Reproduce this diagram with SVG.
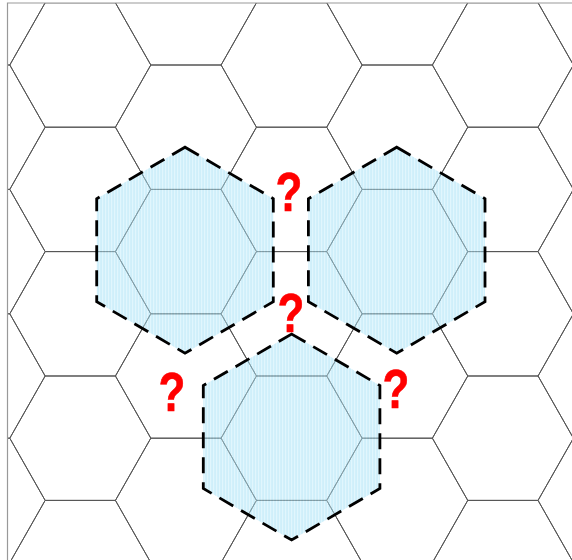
<svg xmlns="http://www.w3.org/2000/svg" xmlns:xlink="http://www.w3.org/1999/xlink" width="572" height="560" viewBox="0 0 572 560">
<style>
.g{fill:none;stroke:#555;stroke-width:1}
.reg{fill:url(#stripes);fill-opacity:0.5;stroke:none}
.dash{fill:none;stroke:#000;stroke-width:2.8;stroke-dasharray:16,9;stroke-linejoin:miter}
.q{font-family:"Liberation Sans",Arial,sans-serif;font-weight:bold;font-size:55px;fill:#ff0000;stroke:#ff0000;stroke-width:0.6;text-anchor:middle}
</style>
<defs>
<path id="h" d="M-70.5,0 L-35.15,-62.2 L35.15,-62.2 L70.5,0 L35.15,62.2 L-35.15,62.2 Z"/>
<pattern id="stripes" patternUnits="userSpaceOnUse" width="3" height="10">
<rect width="3" height="10" fill="#9fdff6"/>
<rect width="1.2" height="10" fill="#c4eefb"/>
</pattern>
<clipPath id="frame"><rect x="7.5" y="3" width="570" height="560"/></clipPath>
</defs>
<rect width="572" height="560" fill="#fff"/>
<g id="grid" class="g" clip-path="url(#frame)">
<use xlink:href="#h" x="-25.35" y="2.8"/><use xlink:href="#h" x="-25.35" y="127.2"/><use xlink:href="#h" x="-25.35" y="251.6"/><use xlink:href="#h" x="-25.35" y="376"/><use xlink:href="#h" x="-25.35" y="500.4"/>
<use xlink:href="#h" x="80.3" y="65"/><use xlink:href="#h" x="80.3" y="189.4"/><use xlink:href="#h" x="80.3" y="313.8"/><use xlink:href="#h" x="80.3" y="438.2"/><use xlink:href="#h" x="80.3" y="562.6"/>
<use xlink:href="#h" x="185.95" y="2.8"/><use xlink:href="#h" x="185.95" y="127.2"/><use xlink:href="#h" x="185.95" y="251.6"/><use xlink:href="#h" x="185.95" y="376"/><use xlink:href="#h" x="185.95" y="500.4"/>
<use xlink:href="#h" x="291.6" y="65"/><use xlink:href="#h" x="291.6" y="189.4"/><use xlink:href="#h" x="291.6" y="313.8"/><use xlink:href="#h" x="291.6" y="438.2"/><use xlink:href="#h" x="291.6" y="562.6"/>
<use xlink:href="#h" x="397.25" y="2.8"/><use xlink:href="#h" x="397.25" y="127.2"/><use xlink:href="#h" x="397.25" y="251.6"/><use xlink:href="#h" x="397.25" y="376"/><use xlink:href="#h" x="397.25" y="500.4"/>
<use xlink:href="#h" x="502.9" y="65"/><use xlink:href="#h" x="502.9" y="189.4"/><use xlink:href="#h" x="502.9" y="313.8"/><use xlink:href="#h" x="502.9" y="438.2"/><use xlink:href="#h" x="502.9" y="562.6"/>
<use xlink:href="#h" x="608.55" y="2.8"/><use xlink:href="#h" x="608.55" y="127.2"/><use xlink:href="#h" x="608.55" y="251.6"/><use xlink:href="#h" x="608.55" y="376"/><use xlink:href="#h" x="608.55" y="500.4"/>
</g>
<path id="border" d="M7.5,560 L7.5,3 L572,3" fill="none" stroke="#999" stroke-width="1.2"/>
<g id="region-a">
<path class="reg" d="M185,147.2 L273.3,198.7 L273.3,301.7 L185,353.2 L96.7,301.7 L96.7,198.7 Z"/>
<path class="dash" d="M185,147.2 L273.3,198.7 L273.3,301.7 L185,353.2 L96.7,301.7 L96.7,198.7 Z"/>
</g>
<g id="region-b">
<path class="reg" d="M396.7,147.2 L485,198.7 L485,301.7 L396.7,353.2 L308.4,301.7 L308.4,198.7 Z"/>
<path class="dash" d="M396.7,147.2 L485,198.7 L485,301.7 L396.7,353.2 L308.4,301.7 L308.4,198.7 Z"/>
</g>
<g id="region-c">
<path class="reg" d="M291.6,334 L379.9,385.5 L379.9,488.5 L291.6,540 L203.3,488.5 L203.3,385.5 Z"/>
<path class="dash" d="M291.6,334 L379.9,385.5 L379.9,488.5 L291.6,540 L203.3,488.5 L203.3,385.5 Z"/>
</g>
<g id="labels">
<text class="q" transform="translate(289,211) scale(0.8,1)">?</text>
<text class="q" transform="translate(291,332) scale(0.8,1)">?</text>
<text class="q" transform="translate(172,411) scale(0.8,1)">?</text>
<text class="q" transform="translate(396,408) scale(0.8,1)">?</text>
</g>
</svg>
